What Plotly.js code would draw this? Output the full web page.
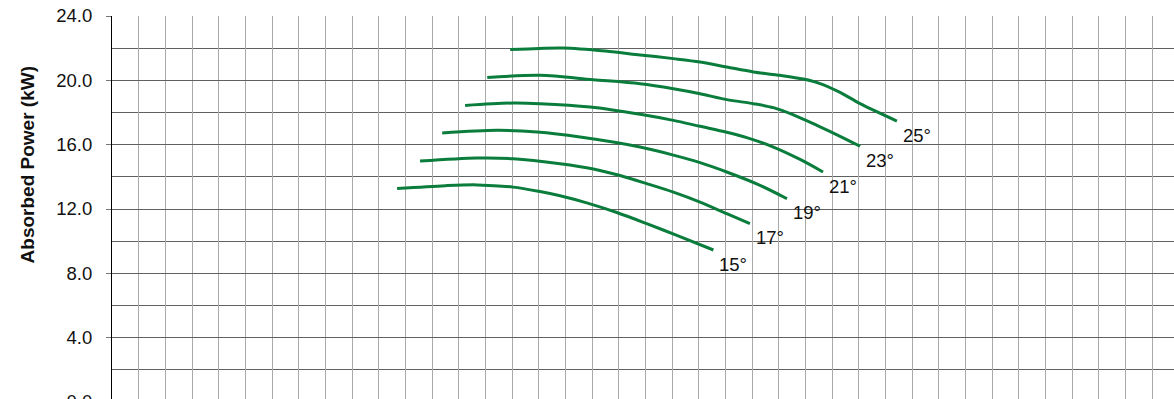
<!DOCTYPE html>
<html>
<head>
<meta charset="utf-8">
<script src="https://cdn.plot.ly/plotly-3.0.1.min.js"></script>
<style>
html,body{margin:0;padding:0;overflow:hidden;background:#fff;}
#chart{width:1174px;height:442px;}
</style>
</head>
<body>
<div id="chart"></div>
<script>
const curveLabels = ["15°", "17°", "19°", "21°", "23°", "25°"];

const x15 = [10.69, 12.50, 13.69, 15.04, 16.00, 16.80, 17.80, 18.93, 20.05, 21.18, 22.55];
const y15 = [13.27, 13.45, 13.50, 13.36, 13.10, 12.82, 12.38, 11.78, 11.09, 10.36, 9.45];

const x17 = [11.55, 13.69, 15.04, 16.80, 18.05, 19.05, 20.05, 21.05, 22.05, 23.05, 23.92];
const y17 = [14.98, 15.17, 15.13, 14.82, 14.49, 14.08, 13.58, 13.05, 12.43, 11.71, 11.09];

const x19 = [12.38, 14.44, 15.94, 17.55, 19.80, 21.05, 22.05, 23.05, 24.30, 25.31];
const y19 = [16.72, 16.89, 16.78, 16.47, 15.85, 15.35, 14.88, 14.30, 13.47, 12.64];

const x21 = [13.24, 15.04, 16.05, 17.93, 19.80, 21.05, 22.05, 23.05, 23.80, 24.80, 25.80, 26.66];
const y21 = [18.44, 18.59, 18.55, 18.34, 17.89, 17.51, 17.14, 16.77, 16.44, 15.85, 15.08, 14.30];

const x23 = [14.07, 16.05, 18.04, 19.80, 21.05, 22.05, 23.05, 24.05, 24.80, 25.55, 26.43, 27.30, 28.05];
const y23 = [20.17, 20.31, 20.04, 19.79, 19.48, 19.17, 18.80, 18.55, 18.30, 17.85, 17.20, 16.52, 15.90];

const x25 = [14.93, 16.00, 16.91, 18.50, 19.80, 21.05, 22.05, 23.05, 24.05, 25.05, 25.92, 26.55, 27.30, 28.05, 29.43];
const y25 = [21.91, 21.98, 22.01, 21.82, 21.58, 21.35, 21.14, 20.83, 20.52, 20.31, 20.08, 19.80, 19.25, 18.55, 17.47];

const yTickVals = [0, 4, 8, 12, 16, 20, 24];
const yTitle = "Absorbed Power (kW)";

const xs = [x15, x17, x19, x21, x23, x25];
const ys = [y15, y17, y19, y21, y23, y25];

const lineColor = '#0a7d3c';
const traces = xs.map((x, i) => ({
  x: x, y: ys[i], type: 'scatter', mode: 'lines',
  line: {color: lineColor, width: 3, shape: 'spline', smoothing: 0.9},
  hoverinfo: 'skip', showlegend: false
}));

const annotations = xs.map((x, i) => ({
  x: x[x.length - 1], y: ys[i][ys[i].length - 1],
  xref: 'x', yref: 'y', text: curveLabels[i], showarrow: false,
  xanchor: 'left', yanchor: 'middle', xshift: 4, yshift: -14,
  font: {family: 'Liberation Sans, Arial, sans-serif', size: 18.5, color: '#111'}
}));

annotations.push({
  xref: 'paper', yref: 'paper', x: -0.080, y: 0.613,
  text: '<b>' + yTitle + '</b>', showarrow: false, textangle: -90,
  xanchor: 'center', yanchor: 'middle',
  font: {family: 'Liberation Sans, Arial, sans-serif', size: 19, color: '#111'}
});

const layout = {
  width: 1174, height: 442,
  margin: {l: 112, r: 0, t: 16, b: 40},
  paper_bgcolor: '#fff', plot_bgcolor: '#fff',
  showlegend: false,
  xaxis: {
    range: [0, 39.82], dtick: 1, tick0: 0,
    showgrid: true, gridcolor: '#aaaaaa', gridwidth: 1,
    showticklabels: false, ticks: '', zeroline: false, showline: false,
    fixedrange: true
  },
  yaxis: {
    range: [0, 24], tickvals: yTickVals,
    ticktext: yTickVals.map(v => v.toFixed(1)),
    ticks: 'outside', ticklen: 5, tickcolor: '#777', tickwidth: 1,
    ticklabelstandoff: 10,
    showgrid: true, gridcolor: '#606060', gridwidth: 1,
    minor: {dtick: 2, tick0: 0, showgrid: true, gridcolor: '#606060', gridwidth: 1, ticks: ''},
    zeroline: false, showline: true, linecolor: '#000', linewidth: 1,
    tickfont: {family: 'Liberation Sans, Arial, sans-serif', size: 18.5, color: '#111'},
    fixedrange: true
  },
  annotations: annotations
};

Plotly.newPlot('chart', traces, layout, {displayModeBar: false, staticPlot: true});
</script>
</body>
</html>
